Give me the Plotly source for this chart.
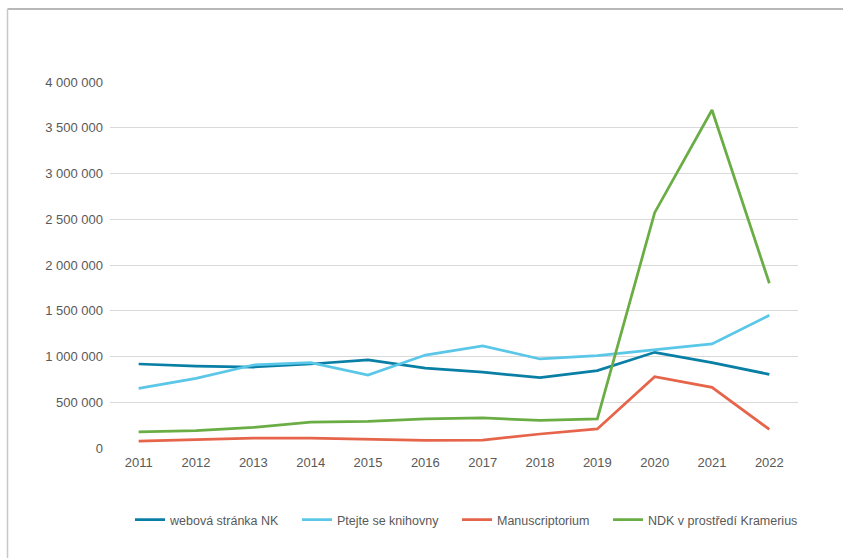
import plotly.graph_objects as go

years = ["2011", "2012", "2013", "2014", "2015", "2016", "2017", "2018", "2019", "2020", "2021", "2022"]

web_nk = [918000, 896000, 885000, 918000, 962000, 874000, 830000, 768000, 845000, 1046000, 932000, 805000]
ptejte = [652000, 762000, 907000, 932000, 798000, 1016000, 1116000, 973000, 1009000, 1071000, 1137000, 1450000]
manuscriptorium = [76000, 95000, 109000, 109000, 98000, 84000, 86000, 153000, 208000, 780000, 663000, 204000]
ndk = [175000, 189000, 226000, 284000, 292000, 317000, 328000, 302000, 317000, 2572000, 3694000, 1800000]

series = [
    ("webová stránka NK", web_nk, "#0A7FA6"),
    ("Ptejte se knihovny", ptejte, "#5BC7E8"),
    ("Manuscriptorium", manuscriptorium, "#E5644A"),
    ("NDK v prostředí Kramerius", ndk, "#6AAD45"),
]

y_ticks = [0, 500000, 1000000, 1500000, 2000000, 2500000, 3000000, 3500000, 4000000]

W, H = 843, 558
ml, mr, mt, mb = 110, 45, 82, 110
pw = W - ml - mr
ph = H - mt - mb

def px_x(p):
    return (p - ml) / pw

def px_y(p):
    return (H - mb - p) / ph

legend_starts = [135, 302, 462, 613]
legend_ids = ["legend", "legend2", "legend3", "legend4"]

fig = go.Figure()
for (name, vals, color), lid in zip(series, legend_ids):
    fig.add_trace(go.Scatter(
        x=years, y=vals, name=name, mode="lines",
        line=dict(color=color, width=2.75), legend=lid,
    ))

legend_layout = {}
for lid, start in zip(legend_ids, legend_starts):
    legend_layout[lid] = dict(
        orientation="h", x=px_x(start - 5), xanchor="left",
        y=px_y(520), yanchor="middle",
        font=dict(size=12.5, color="#595959"), itemwidth=30,
        bgcolor="rgba(0,0,0,0)", borderwidth=0,
    )

fig.update_layout(
    width=W, height=H,
    margin=dict(l=ml, r=mr, t=mt, b=mb),
    paper_bgcolor="white", plot_bgcolor="white",
    separators=". ",
    font=dict(family="Liberation Sans, Arial, sans-serif", size=13, color="#595959"),
    showlegend=True,
    xaxis=dict(
        type="category", range=[-0.5, 11.5], showgrid=False, zeroline=False,
        showline=False, ticks="", tickfont=dict(size=13, color="#595959"),
        ticklabelstandoff=5, fixedrange=True,
    ),
    yaxis=dict(
        range=[0, 4000000], tickvals=y_ticks, tickformat=",d",
        showgrid=True, gridcolor="#D9D9D9", gridwidth=1, zeroline=False,
        showline=False, ticks="", ticklabelstandoff=6,
        tickfont=dict(size=13, color="#595959"), fixedrange=True,
    ),
    shapes=[
        dict(type="line", xref="paper", yref="paper",
             x0=px_x(7.5), x1=px_x(850), y0=px_y(9), y1=px_y(9),
             line=dict(color="#A0A0A0", width=1.5)),
        dict(type="line", xref="paper", yref="paper",
             x0=px_x(7.5), x1=px_x(7.5), y0=px_y(9), y1=px_y(570),
             line=dict(color="#C8C8C8", width=1.5)),
    ],
    **legend_layout,
)

fig.write_html(
    "out.html",
    config={"displayModeBar": False},
    post_script="document.body.style.margin='0';document.body.style.overflow='hidden';",
)
